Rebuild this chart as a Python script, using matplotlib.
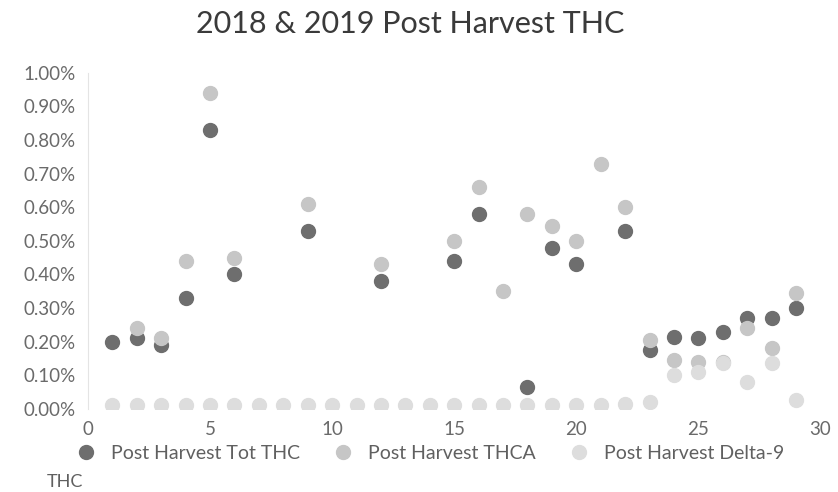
import matplotlib.pyplot as plt
import numpy as np
from matplotlib.ticker import PercentFormatter

plt.rcParams['font.family'] = ['Lato', 'DejaVu Sans']

nan = np.nan
samples = list(range(1, 30))

# post harvest results, percent
tot_thc = [0.20, 0.21, 0.19, 0.33, 0.83, 0.40, nan, nan, 0.53, nan,
           nan, 0.38, nan, nan, 0.44, 0.58, nan, 0.065, 0.48, 0.43,
           nan, 0.53, 0.175, 0.215, 0.21, 0.23, 0.27, 0.27, 0.30]
thca = [nan, 0.24, 0.21, 0.44, 0.94, 0.45, nan, nan, 0.61, nan,
        nan, 0.43, nan, nan, 0.50, 0.66, 0.35, 0.58, 0.545, 0.50,
        0.73, 0.60, 0.205, 0.146, 0.14, 0.14, 0.24, 0.18, 0.345]
delta9 = [0.01, 0.01, 0.01, 0.01, 0.01, 0.01, 0.01, 0.01, 0.01, 0.01,
          0.01, 0.01, 0.01, 0.01, 0.01, 0.01, 0.01, 0.01, 0.01, 0.01,
          0.01, 0.015, 0.02, 0.10, 0.11, 0.137, 0.08, 0.137, 0.027]

fig = plt.figure(figsize=(8.38, 4.92), dpi=100)
ax = fig.add_axes([0.105, 0.169, 0.874, 0.683])

ax.scatter(samples, tot_thc, s=100, color='#6e6e6e', label='Post Harvest Tot THC', zorder=3)
ax.scatter(samples, thca, s=100, color='#c6c6c6', label='Post Harvest THCA', zorder=3)
ax.scatter(samples, delta9, s=100, color='#dddddd', label='Post Harvest Delta-9', zorder=3)

ax.set_xlim(0, 30)
ax.set_ylim(0, 1.0)
ax.set_xticks(range(0, 31, 5))
ax.set_yticks(np.arange(0, 1.01, 0.1))
ax.yaxis.set_major_formatter(PercentFormatter(decimals=2))

for side in ['top', 'right', 'bottom']:
    ax.spines[side].set_visible(False)
ax.spines['left'].set_color('#e4e4e4')
ax.tick_params(axis='both', length=0, labelsize=13.5, labelcolor='#6a6a6a')
ax.tick_params(axis='x', pad=9)
ax.tick_params(axis='y', pad=9)

fig.suptitle('2018 & 2019 Post Harvest THC', x=0.49, y=0.98, fontsize=22, color='#3a3a3a')

# legend sits under the tick labels; the last entry wraps onto a second line
fig.legend(loc='lower left', bbox_to_anchor=(0.07, 0.045), ncol=3, frameon=False,
           fontsize=14, labelcolor='#606060', handletextpad=0.3, columnspacing=1.2,
           borderaxespad=0, scatteryoffsets=[0.5])
fig.text(0.056, 0.01, 'THC', fontsize=13, color='#606060')

fig.savefig('out.png', dpi=100)
